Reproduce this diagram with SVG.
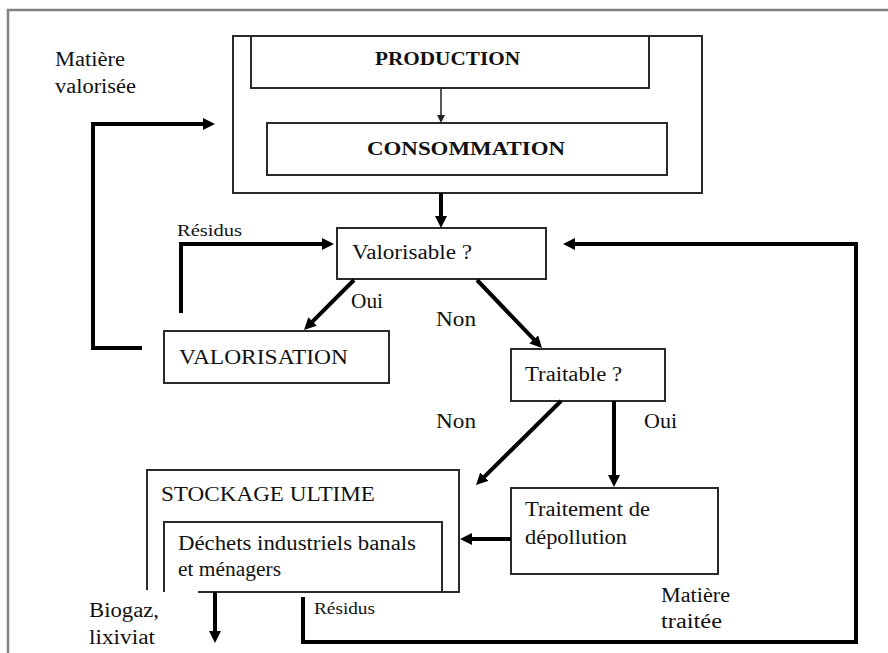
<svg xmlns="http://www.w3.org/2000/svg" width="888" height="653" viewBox="0 0 888 653">
<style>
text{font-family:"Liberation Serif","Times New Roman","DejaVu Serif",serif;font-size:20px;fill:#111}
.b{font-weight:bold;font-size:18px}
.s{font-size:16px}
.box{fill:none;stroke:#2a2a2a;stroke-width:2}
.thick{fill:none;stroke:#000;stroke-width:4}
.thin{fill:none;stroke:#222;stroke-width:1.5}
</style>
<defs>
<marker id="ah" markerUnits="userSpaceOnUse" markerWidth="14" markerHeight="14" refX="4" refY="6" orient="auto">
<path d="M0,0 L12,6 L0,12 z" fill="#000"/>
</marker>
<marker id="ahs" markerUnits="userSpaceOnUse" markerWidth="10" markerHeight="10" refX="3" refY="4" orient="auto">
<path d="M0,0 L8,4 L0,8 z" fill="#222"/>
</marker>
</defs>
<rect width="888" height="653" fill="#fff"/>
<path d="M8,653 V10 H888" fill="none" stroke="#808080" stroke-width="2.5"/>

<g id="outer">
<rect class="box" x="233" y="36" width="469" height="157"/>
</g>
<g id="production">
<rect class="box" x="251" y="36" width="398" height="52"/>
<text class="b" x="375" y="65" textLength="145" lengthAdjust="spacingAndGlyphs">PRODUCTION</text>
</g>
<g id="consommation">
<rect class="box" x="267" y="123" width="400" height="52"/>
<text class="b" x="367" y="155" textLength="198" lengthAdjust="spacingAndGlyphs" style="font-size:19px">CONSOMMATION</text>
</g>
<g id="valorisable">
<rect class="box" x="337" y="228" width="209" height="51"/>
<text x="352" y="259" textLength="120" lengthAdjust="spacingAndGlyphs">Valorisable ?</text>
</g>
<g id="valorisation">
<rect class="box" x="164" y="331" width="225" height="52"/>
<text x="179" y="364" textLength="169" lengthAdjust="spacingAndGlyphs">VALORISATION</text>
</g>
<g id="traitable">
<rect class="box" x="511" y="349" width="154" height="52"/>
<text x="525" y="381" textLength="97" lengthAdjust="spacingAndGlyphs">Traitable ?</text>
</g>
<g id="traitement">
<rect class="box" x="511" y="488" width="207" height="86"/>
<text x="525" y="516" textLength="125" lengthAdjust="spacingAndGlyphs">Traitement de</text>
<text x="525" y="544" textLength="102" lengthAdjust="spacingAndGlyphs">dépollution</text>
</g>
<g id="stockage">
<path class="box" d="M147,590 V470 H459 V592 H198"/>
<text x="161" y="501" textLength="214" lengthAdjust="spacingAndGlyphs">STOCKAGE ULTIME</text>
</g>
<g id="dechets">
<path class="box" d="M164,592 V522 H442 V592"/>
<text x="178" y="550" textLength="238" lengthAdjust="spacingAndGlyphs">Déchets industriels banals</text>
<text x="178" y="576" textLength="103" lengthAdjust="spacingAndGlyphs">et ménagers</text>
</g>

<g id="connectors">
<path class="thin" d="M441,88 V118" marker-end="url(#ahs)"/>
<path class="thick" d="M441,193 V220" marker-end="url(#ah)"/>
<path class="thick" d="M142,348 H93 V124 H207" marker-end="url(#ah)"/>
<path class="thick" d="M181,313 V244 H326" marker-end="url(#ah)"/>
<path class="thick" d="M354,280 L309.7,324.3" marker-end="url(#ah)"/>
<path class="thick" d="M477,280 L536.5,342.2" marker-end="url(#ah)"/>
<path class="thick" d="M561,401 L481.7,479.4" marker-end="url(#ah)"/>
<path class="thick" d="M614,401 V479" marker-end="url(#ah)"/>
<path class="thick" d="M511,539 H468" marker-end="url(#ah)"/>
<path class="thick" d="M215,592 V635" marker-end="url(#ah)"/>
<path class="thick" d="M303,597 V642 H856 V244 H571" marker-end="url(#ah)"/>
</g>

<g id="labels">
<text x="55" y="66" textLength="70" lengthAdjust="spacingAndGlyphs">Matière</text>
<text x="55" y="93" textLength="81" lengthAdjust="spacingAndGlyphs">valorisée</text>
<text class="s" x="177" y="236" textLength="65" lengthAdjust="spacingAndGlyphs">Résidus</text>
<text x="351" y="308" textLength="32" lengthAdjust="spacingAndGlyphs">Oui</text>
<text x="436" y="326" textLength="40" lengthAdjust="spacingAndGlyphs">Non</text>
<text x="436" y="428" textLength="40" lengthAdjust="spacingAndGlyphs">Non</text>
<text x="644" y="428" textLength="33" lengthAdjust="spacingAndGlyphs">Oui</text>
<text x="661" y="602" textLength="69" lengthAdjust="spacingAndGlyphs">Matière</text>
<text x="661" y="628" textLength="61" lengthAdjust="spacingAndGlyphs">traitée</text>
<text x="89" y="617" textLength="70" lengthAdjust="spacingAndGlyphs">Biogaz,</text>
<text x="89" y="644" textLength="66" lengthAdjust="spacingAndGlyphs">lixiviat</text>
<text class="s" x="314" y="614" textLength="61" lengthAdjust="spacingAndGlyphs">Résidus</text>
</g>
</svg>
